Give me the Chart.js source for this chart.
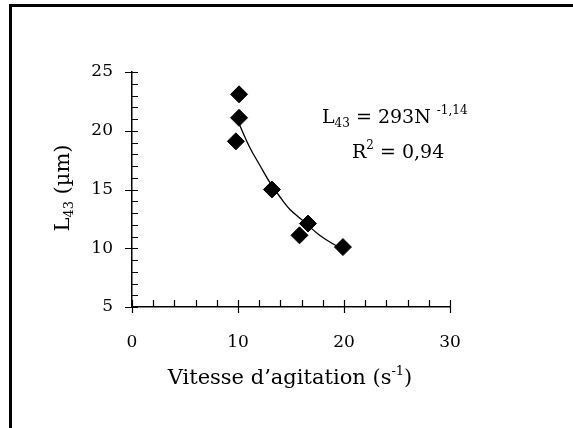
<!DOCTYPE html>
<html lang="fr">
<head>
    <meta charset="UTF-8">
    <title>L43 vs vitesse d'agitation</title>
    <script src="https://cdn.jsdelivr.net/npm/chart.js"></script>
    <style>
        body { margin: 0; background: #fff; }
        #wrap { position: relative; width: 573px; height: 428px; }
        #frame {
            position: absolute; left: 9px; top: 4px; right: 0; bottom: 0;
            border-left: 3px solid #000; border-top: 3px solid #000;
            pointer-events: none;
        }
    </style>
</head>
<body>
    <div id="wrap">
        <canvas id="myChart" width="573" height="428"></canvas>
        <div id="frame"></div>
    </div>

    <script>
        // measured points
        var speedX = [10.1, 10.1, 9.8, 13.2, 15.8, 16.6, 19.9];
        var sizeY = [23.1, 21.1, 19.1, 15.0, 11.1, 12.1, 10.1];

        // power-law fit curve
        var fitX = [10.1, 11.1, 12.1, 13.0, 14.1, 14.9, 16.2, 17.7, 19.3, 20.0];
        var fitY = [20.6, 18.6, 17.0, 15.6, 14.2, 13.3, 12.3, 11.1, 10.2, 9.9];

        var xTicks = [0, 10, 20, 30];
        var yTicks = [5, 10, 15, 20, 25];

        var serif = 'DejaVu Serif';

        // draw a run of text pieces (normal / sub / sup) starting at x
        function drawRich(ctx, parts, x, y, align) {
            var total = 0;
            parts.forEach(function (p) {
                ctx.font = p.size + 'px "' + serif + '"';
                p.w = ctx.measureText(p.t).width;
                total += p.w;
            });
            var cx = x;
            if (align === 'center') cx = x - total / 2;
            parts.forEach(function (p) {
                ctx.font = p.size + 'px "' + serif + '"';
                ctx.fillText(p.t, cx, y + (p.dy || 0));
                cx += p.w;
            });
        }

        var decor = {
            id: 'decor',
            afterDraw: function (chart) {
                var ctx = chart.ctx;
                var xs = chart.scales.x, ys = chart.scales.y;
                var x0 = xs.getPixelForValue(0), y0 = ys.getPixelForValue(5);
                ctx.save();
                ctx.strokeStyle = '#000';
                ctx.lineWidth = 1.2;
                ctx.beginPath();
                // y ticks every 1, major every 5 crossing the axis
                for (var v = 5; v <= 25; v++) {
                    var py = Math.round(ys.getPixelForValue(v)) + 0.5;
                    var major = v % 5 === 0;
                    ctx.moveTo(x0 - (major ? 7 : 0), py);
                    ctx.lineTo(x0 + 6, py);
                }
                // x ticks every 2, major every 10
                for (var u = 0; u <= 30; u += 2) {
                    var px = Math.round(xs.getPixelForValue(u)) + 0.5;
                    var maj = u % 10 === 0;
                    ctx.moveTo(px, y0 - 7);
                    ctx.lineTo(px, y0 + (maj ? 6 : 0));
                }
                ctx.stroke();

                ctx.fillStyle = '#000';
                ctx.textBaseline = 'alphabetic';
                ctx.textAlign = 'left';

                // x title
                drawRich(ctx, [
                    { t: 'Vitesse d\u2019agitation (s', size: 21 },
                    { t: '-1', size: 13, dy: -9 },
                    { t: ')', size: 21 }
                ], 290, 384, 'center');

                // y title, rotated
                ctx.save();
                ctx.translate(69, 188);
                ctx.rotate(-Math.PI / 2);
                drawRich(ctx, [
                    { t: 'L', size: 21 },
                    { t: '43', size: 13, dy: 4 },
                    { t: ' (\u00b5m)', size: 21 }
                ], 0, 0, 'center');
                ctx.restore();

                // fit equation
                drawRich(ctx, [
                    { t: 'L', size: 19 },
                    { t: '43', size: 12, dy: 4 },
                    { t: ' = 293N ', size: 19 },
                    { t: '-1,14', size: 12, dy: -9 }
                ], 322, 123, 'left');
                drawRich(ctx, [
                    { t: 'R', size: 19 },
                    { t: '2', size: 12, dy: -9 },
                    { t: ' = 0,94', size: 19 }
                ], 352, 158, 'left');
                ctx.restore();
            }
        };

        var points = speedX.map(function (x, i) { return { x: x, y: sizeY[i] }; });
        var curve = fitX.map(function (x, i) { return { x: x, y: fitY[i] }; });

        var ctx = document.getElementById('myChart').getContext('2d');
        var chart = new Chart(ctx, {
            type: 'scatter',
            data: {
                datasets: [{
                    label: 'fit',
                    data: curve,
                    showLine: true,
                    borderColor: '#000',
                    borderWidth: 1.3,
                    pointRadius: 0,
                    tension: 0.4,
                    fill: false,
                    order: 2
                }, {
                    label: 'L43',
                    data: points,
                    pointStyle: 'rectRot',
                    pointRadius: 8.5,
                    backgroundColor: '#000',
                    borderColor: '#000',
                    borderWidth: 1,
                    order: 1
                }]
            },
            options: {
                responsive: false,
                animation: false,
                events: [],
                layout: { padding: { left: 0, right: 123, top: 72, bottom: 0 } },
                plugins: {
                    legend: { display: false },
                    tooltip: { enabled: false }
                },
                scales: {
                    x: {
                        type: 'linear',
                        min: 0, max: 30,
                        afterBuildTicks: function (s) { s.ticks = xTicks.map(function (v) { return { value: v }; }); },
                        afterFit: function (s) { s.height = 121; },
                        grid: { display: false, drawTicks: false },
                        border: { display: true, color: '#000', width: 1.5 },
                        ticks: { color: '#000', padding: 25, maxRotation: 0, font: { family: serif, size: 17 } }
                    },
                    y: {
                        type: 'linear',
                        min: 5, max: 25,
                        afterBuildTicks: function (s) { s.ticks = yTicks.map(function (v) { return { value: v }; }); },
                        afterFit: function (s) { s.width = 132; },
                        grid: { display: false, drawTicks: false },
                        border: { display: true, color: '#000', width: 1.5 },
                        ticks: { color: '#000', padding: 19, font: { family: serif, size: 17 } }
                    }
                }
            },
            plugins: [decor]
        });
    </script>
</body>
</html>
